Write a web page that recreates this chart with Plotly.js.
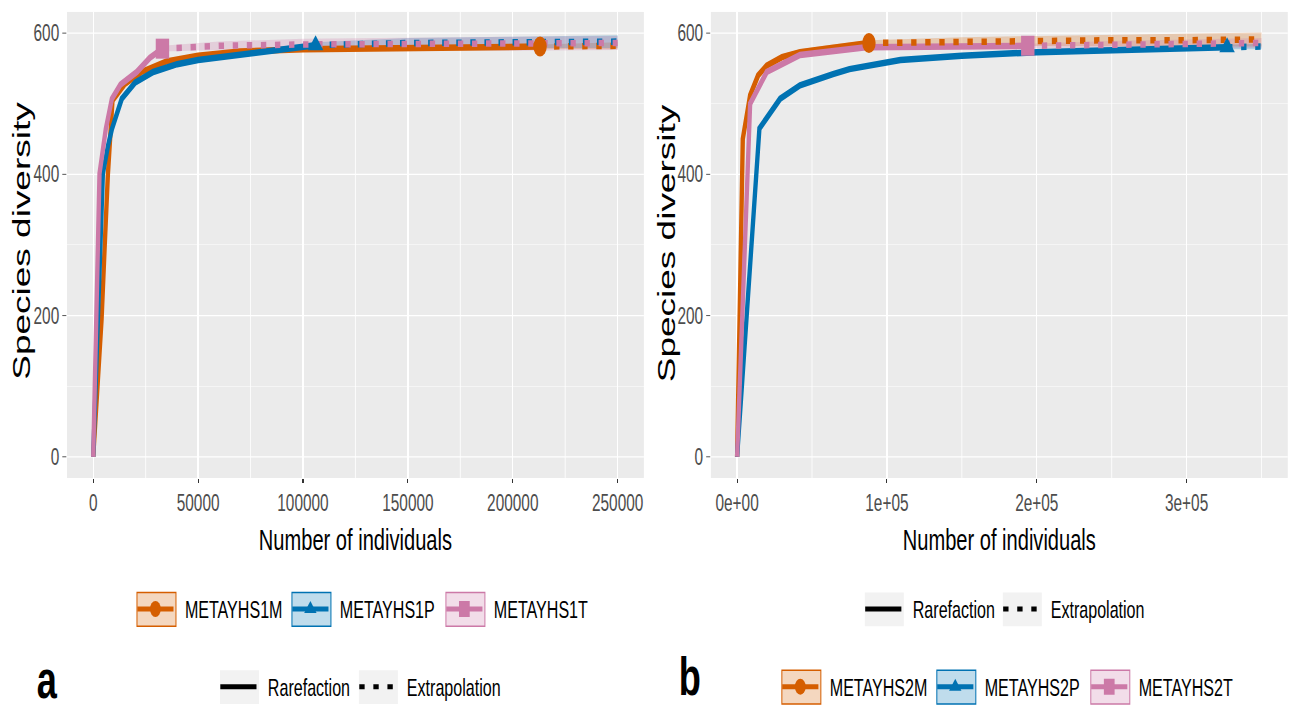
<!DOCTYPE html>
<html><head><meta charset="utf-8">
<script src="https://cdn.plot.ly/plotly-3.0.1.min.js"></script>
<style>
html,body{margin:0;padding:0;background:#fff;width:1292px;height:710px;overflow:hidden;}
#chart{width:1928px;height:710px;transform:scaleX(0.67);transform-origin:0 0;}
</style>
</head><body><div id="chart"></div>
<script>
// ---------- tick labels ----------
const x1Ticks = [0, 50000, 100000, 150000, 200000, 250000];
const x1Labels = ['0', '50000', '100000', '150000', '200000', '250000'];
const x1Minor = [25000, 75000, 125000, 175000, 225000];
const x2Ticks = [0, 100000, 200000, 300000];
const x2Labels = ['0e+00', '1e+05', '2e+05', '3e+05'];
const x2Minor = [50000, 150000, 250000, 350000];
const yTicks = [0, 200, 400, 600];
const yLabels = ['0', '200', '400', '600'];
const yMinor = [100, 300, 500];

// ---------- categories ----------
const samplesA = ['METAYHS1M', 'METAYHS1P', 'METAYHS1T'];
const samplesB = ['METAYHS2M', 'METAYHS2P', 'METAYHS2T'];
const methods = ['Rarefaction', 'Extrapolation'];

// ---------- panel a ----------
const m1RareX = [0, 2000, 4000, 5500, 7000, 9200, 15000, 23000, 35000, 50000, 70000, 100000, 140000, 180000, 213000];
const m1RareY = [0, 95, 195, 300, 400, 505, 528, 545, 560, 568, 574, 577, 579, 580, 581];
const m1ExtX = [213000, 230000, 250000];
const m1ExtY = [581, 581.5, 582];
const m1Ci = [0, 2, 3, 4, 4, 4, 4, 3, 3, 3, 3, 3, 3, 3, 3, 4, 5];

const p1RareX = [0, 1200, 2500, 4600, 7000, 8900, 13600, 20000, 28600, 40000, 50000, 65000, 80000, 95000, 106000];
const p1RareY = [0, 100, 196, 401, 440, 464, 507, 530, 545, 556, 562, 568, 574, 579, 583];
const p1ExtX = [106000, 150000, 200000, 250000];
const p1ExtY = [583, 586, 587, 588];
const p1Ci = [0, 3, 4, 5, 5, 5, 5, 5, 4, 4, 4, 4, 4, 4, 4, 7, 8, 9];

const t1RareX = [0, 700, 1400, 3000, 6000, 8900, 13000, 20800, 27000, 33000];
const t1RareY = [0, 100, 196, 401, 464, 507, 527, 545, 565, 578];
const t1ExtX = [33000, 60000, 100000, 150000, 200000, 250000];
const t1ExtY = [578, 582, 584, 585, 585, 586];
const t1Ci = [0, 3, 4, 5, 5, 5, 5, 4, 4, 4, 6, 8, 9, 10, 10];

// ---------- panel b ----------
const m2RareX = [0, 3800, 8700, 14000, 19800, 30000, 42000, 64000, 88000];
const m2RareY = [0, 450, 512, 540, 554, 566, 573, 580, 586];
const m2ExtX = [88000, 150000, 200000, 250000, 300000, 350000];
const m2ExtY = [586, 588, 589, 590, 590, 591];
const m2Ci = [0, 4, 4, 4, 4, 4, 4, 4, 4, 6, 7, 8, 9, 10];

const p2RareX = [0, 14900, 28700, 42000, 64000, 75000, 109000, 150000, 200000, 250000, 300000, 327000];
const p2RareY = [0, 465, 507, 526, 542, 549, 562, 568, 573, 576, 578, 580];
const p2ExtX = [327000, 350000];
const p2ExtY = [580, 581];
const p2Ci = [0, 4, 4, 3, 3, 3, 3, 3, 3, 3, 3, 3, 4];

const t2RareX = [0, 8700, 19800, 42000, 86000, 130000, 194000];
const t2RareY = [0, 500, 545, 569, 580, 581, 582];
const t2ExtX = [194000, 250000, 300000, 350000];
const t2ExtY = [582, 584, 585, 586];
const t2Ci = [0, 4, 4, 4, 3, 3, 3, 5, 6, 7];

// ---------- styles ----------
const W = 1928, H = 710;        // drawing size before the horizontal squeeze (CSS scaleX 0.67)
const RW = 1292;                // picture width, for paper fractions
const COLORS = ['#D55E00', '#0072B2', '#CC79A7'];
const FILLS = ['rgba(213,94,0,0.25)', 'rgba(0,114,178,0.25)', 'rgba(204,121,167,0.25)'];
const SYMBOLS = ['circle', 'triangle-up', 'square'];
const FONT = '"Liberation Sans", Arial, Helvetica, sans-serif';
const DOTS = '8px,13px';
const GAP = '\u2002';           // space between legend key and its label

const panels = [
  {xa: 'x', ya: 'y', series: [
    [m1RareX, m1RareY, m1ExtX, m1ExtY, m1Ci],
    [p1RareX, p1RareY, p1ExtX, p1ExtY, p1Ci],
    [t1RareX, t1RareY, t1ExtX, t1ExtY, t1Ci]]},
  {xa: 'x2', ya: 'y2', series: [
    [m2RareX, m2RareY, m2ExtX, m2ExtY, m2Ci],
    [p2RareX, p2RareY, p2ExtX, p2ExtY, p2Ci],
    [t2RareX, t2RareY, t2ExtX, t2ExtY, t2Ci]]}
];

const traces = [];
panels.forEach(p => {
  p.series.forEach((s, i) => {
    const [rx, ry, ex, ey, ci] = s;
    const xs = rx.concat(ex.slice(1));
    const ys = ry.concat(ey.slice(1));
    const hi = ys.map((v, k) => v + ci[k]);
    const lo = ys.map((v, k) => v - ci[k]);
    traces.push({x: xs.concat(xs.slice().reverse()), y: hi.concat(lo.slice().reverse()),
      xaxis: p.xa, yaxis: p.ya, mode: 'lines', fill: 'toself', fillcolor: FILLS[i],
      line: {width: 0}, showlegend: false, hoverinfo: 'skip'});
  });
  p.series.forEach((s, i) => {
    traces.push({x: s[0], y: s[1], xaxis: p.xa, yaxis: p.ya, mode: 'lines',
      line: {color: COLORS[i], width: 6.5}, showlegend: false});
  });
  p.series.forEach((s, i) => {
    traces.push({x: s[2], y: s[3], xaxis: p.xa, yaxis: p.ya, mode: 'lines',
      line: {color: COLORS[i], width: 6.5, dash: DOTS}, showlegend: false});
  });
  p.series.forEach((s, i) => {
    const n = s[0].length - 1;
    traces.push({x: [s[0][n]], y: [s[1][n]], xaxis: p.xa, yaxis: p.ya, mode: 'markers',
      marker: {color: COLORS[i], symbol: SYMBOLS[i], size: 20}, showlegend: false});
  });
});

// ---------- legends: one small legend per entry, each over its key box ----------
const legendFont = {family: FONT, size: 24, color: '#000'};
const layoutLegends = {};
const shapes = [];
let legN = 0;
function addEntry(trace, boxLeft, cy, boxFill, boxLine) {
  legN += 1;
  const key = legN === 1 ? 'legend' : 'legend' + legN;
  trace.legend = key;
  trace.name = GAP + trace.name;
  traces.push(trace);
  layoutLegends[key] = {x: (boxLeft - 3) / RW, y: 1 - cy / H, xanchor: 'left', yanchor: 'middle',
    orientation: 'h', bgcolor: 'rgba(0,0,0,0)', font: legendFont, itemwidth: 54, borderwidth: 0};
  shapes.push({type: 'rect', xref: 'paper', yref: 'paper', layer: 'below',
    x0: boxLeft / RW, x1: (boxLeft + 39) / RW, y0: 1 - (cy + 17) / H, y1: 1 - (cy - 17) / H,
    fillcolor: boxFill, line: boxLine});
}
const rowA1 = 612, rowA2 = 690, rowB1 = 612, rowB2 = 690;
const boxesA = [137, 292, 446];
const boxesB = [782, 937, 1091];
const boxesMA = [220, 359];
const boxesMB = [865, 1003];
samplesA.forEach((name, i) => addEntry({x: [null], y: [null], xaxis: 'x', yaxis: 'y', name: name,
  mode: 'lines+markers', line: {color: COLORS[i], width: 5}, marker: {color: COLORS[i], symbol: SYMBOLS[i], size: 18}},
  boxesA[i], rowA1, FILLS[i], {color: COLORS[i], width: 1.5}));
methods.forEach((name, j) => addEntry({x: [null], y: [null], xaxis: 'x', yaxis: 'y', name: name,
  mode: 'lines', line: {color: '#000', width: 5, dash: j ? DOTS : 'solid'}},
  boxesMA[j], rowA2, '#F2F2F2', {width: 0}));
methods.forEach((name, j) => addEntry({x: [null], y: [null], xaxis: 'x2', yaxis: 'y2', name: name,
  mode: 'lines', line: {color: '#000', width: 5, dash: j ? DOTS : 'solid'}},
  boxesMB[j], rowB1, '#F2F2F2', {width: 0}));
samplesB.forEach((name, i) => addEntry({x: [null], y: [null], xaxis: 'x2', yaxis: 'y2', name: name,
  mode: 'lines+markers', line: {color: COLORS[i], width: 5}, marker: {color: COLORS[i], symbol: SYMBOLS[i], size: 18}},
  boxesB[i], rowB2, FILLS[i], {color: COLORS[i], width: 1.5}));

const tickFont = {family: FONT, size: 23, color: '#4D4D4D'};
function xAxis(dom, range, tv, tt, minor) {
  return {domain: dom, range: range, tickvals: tv, ticktext: tt, ticks: 'outside', ticklen: 4,
    tickcolor: '#333', tickwidth: 1.6, tickfont: tickFont, showgrid: true, gridcolor: '#fff', gridwidth: 2,
    zeroline: false, showline: false, automargin: false,
    minor: {tickvals: minor, showgrid: true, gridcolor: '#fff', gridwidth: 1, ticks: ''},
    title: {text: 'Number of individuals', font: {family: FONT, size: 30, color: '#000'}, standoff: 14}};
}
function yAxis(anchor) {
  return {domain: [1 - 480 / H, 1 - 12 / H], range: [-30, 630], anchor: anchor, tickvals: yTicks, ticktext: yLabels,
    ticks: 'outside', ticklen: 6, tickcolor: '#333', tickwidth: 1, tickfont: tickFont,
    showgrid: true, gridcolor: '#fff', gridwidth: 1.3, zeroline: false, showline: false, automargin: false,
    minor: {tickvals: yMinor, showgrid: true, gridcolor: '#fff', gridwidth: 0.6, ticks: ''}};
}
const yTitleFont = {family: FONT, size: 37, color: '#000'};
const panelFont = {family: FONT, size: 54, color: '#000'};

const layout = Object.assign({
  width: W, height: H, margin: {l: 0, r: 0, t: 0, b: 0},
  paper_bgcolor: '#fff', plot_bgcolor: '#EBEBEB',
  xaxis: Object.assign(xAxis([67 / RW, 644 / RW], [-12500, 262500], x1Ticks, x1Labels, x1Minor), {anchor: 'y'}),
  yaxis: yAxis('x'),
  xaxis2: Object.assign(xAxis([711 / RW, 1288 / RW], [-17500, 367500], x2Ticks, x2Labels, x2Minor), {anchor: 'y2'}),
  yaxis2: yAxis('x2'),
  shapes: shapes,
  annotations: [
    {text: 'Species diversity', textangle: -90, x: 22 / RW, y: 1 - 242 / H, xref: 'paper', yref: 'paper',
      xanchor: 'center', yanchor: 'middle', showarrow: false, font: yTitleFont},
    {text: 'Species diversity', textangle: -90, x: 667 / RW, y: 1 - 244 / H, xref: 'paper', yref: 'paper',
      xanchor: 'center', yanchor: 'middle', showarrow: false, font: yTitleFont},
    {text: '<b>a</b>', x: 47 / RW, y: 1 - 682 / H, xref: 'paper', yref: 'paper', xanchor: 'center', yanchor: 'middle',
      showarrow: false, font: panelFont},
    {text: '<b>b</b>', x: 690 / RW, y: 1 - 679 / H, xref: 'paper', yref: 'paper', xanchor: 'center', yanchor: 'middle',
      showarrow: false, font: panelFont}
  ],
  hovermode: false
}, layoutLegends);

Plotly.newPlot('chart', traces, layout, {staticPlot: true, displayModeBar: false});
</script></body></html>
